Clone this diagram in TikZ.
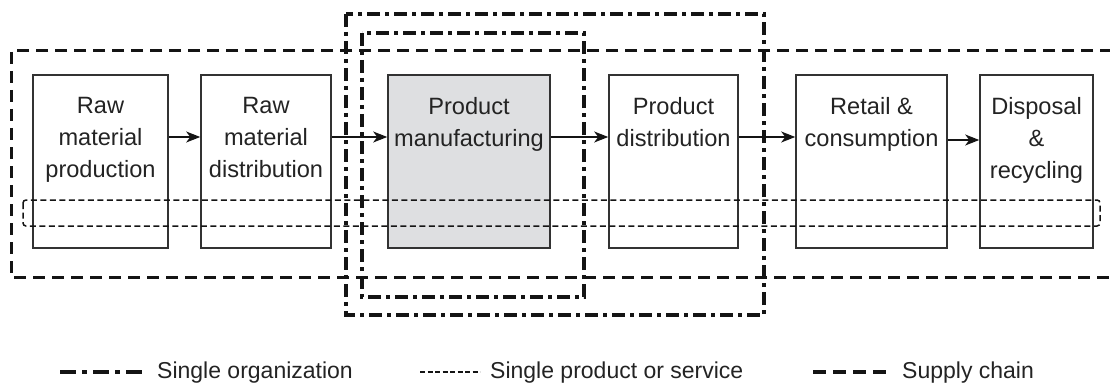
\documentclass[tikz,border=0pt]{standalone}
\usepackage{fontspec}
\setmainfont{Liberation Sans}
\usetikzlibrary{arrows.meta,calc}

\definecolor{boxline}{RGB}{50,50,50}
\definecolor{inkline}{RGB}{20,20,20}
\definecolor{textcol}{RGB}{35,35,35}
\definecolor{procfill}{RGB}{222,223,225}

\begin{document}
\begin{tikzpicture}[x=1pt,y=-1pt,
  stage/.style={draw=boxline, line width=1.6pt, minimum width=#1,
    minimum height=173pt, inner sep=0pt},
  stagetext/.style={anchor=north, yshift=-23pt, align=center, inner sep=0pt,
    text=textcol, font=\fontsize{23.6}{32}\selectfont},
  flow/.style={draw=inkline, line width=1.7pt,
    -{Stealth[length=14pt,width=11pt,inset=4pt]}},
  chainline/.style={draw=inkline, line width=3pt, dash pattern=on 12pt off 7pt},
  orgline/.style={draw=inkline, line width=3.2pt,
    dash pattern=on 13pt off 5pt on 4pt off 5pt},
  prodline/.style={draw=inkline, line width=1.5pt, dash pattern=on 6pt off 3.5pt},
  legendtext/.style={anchor=base west, inner sep=0pt, text=textcol,
    font=\fontsize{23}{28}\selectfont},
]
\useasboundingbox (0,0) rectangle (1110,385);

% process stages
\node[stage=135pt, label={[stagetext]north:{Raw\\material\\production}}] (b1) at (100.5,161.5) {};
\node[stage=130pt, label={[stagetext]north:{Raw\\material\\distribution}}] (b2) at (266,161.5) {};
\node[stage=162pt, fill=procfill, label={[stagetext]north:{Product\\manufacturing}}] (b3) at (469,161.5) {};
\node[stage=129pt, label={[stagetext]north:{Product\\distribution}}] (b4) at (673.5,161.5) {};
\node[stage=151pt, label={[stagetext]north:{Retail \&\\consumption}}] (b5) at (871.5,161.5) {};
\node[stage=113pt, label={[stagetext]north:{Disposal\\\&\\recycling}}] (b6) at (1036.5,161.5) {};

% material and product flow
\draw[flow] ([yshift=24.5pt]b1.east) -- ([yshift=24.5pt]b2.west);
\draw[flow] ([yshift=24.5pt]b2.east) -- ([yshift=24.5pt]b3.west);
\draw[flow] ([yshift=24.5pt]b3.east) -- ([yshift=24.5pt]b4.west);
\draw[flow] ([yshift=24.5pt]b4.east) -- ([yshift=24.5pt]b5.west);
\draw[flow] ([yshift=21.5pt]b5.east) -- ([yshift=21.5pt]b6.west);

% scope boundaries
\draw[chainline] (1112,51) -- (11,51) -- (11,277) -- (1112,277);
\draw[prodline, rounded corners=3pt] (23,200) rectangle (1100,226);
\draw[orgline] (346,14) rectangle (764,315);
\draw[orgline] (362,33) rectangle (584,297);

% legend
\node[legendtext] (lorg) at (157,378) {Single organization};
\node[legendtext] (lprod) at (490,378) {Single product or service};
\node[legendtext] (lchain) at (902,378) {Supply chain};
\coordinate (sorg) at (60,372);
\coordinate (sprod) at (420,372);
\coordinate (schain) at (813,372);
\draw[orgline, line width=4pt, dash pattern=on 16pt off 6pt on 5pt off 6pt]
  (sorg) -- ([xshift=-10pt]sorg -| lorg.west);
\draw[prodline, line width=1.8pt, dash pattern=on 5pt off 2.5pt]
  (sprod) -- ([xshift=-10pt]sprod -| lprod.west);
\draw[chainline, line width=4pt, dash pattern=on 13pt off 7pt]
  (schain) -- ([xshift=-12pt]schain -| lchain.west);
\end{tikzpicture}
\end{document}
